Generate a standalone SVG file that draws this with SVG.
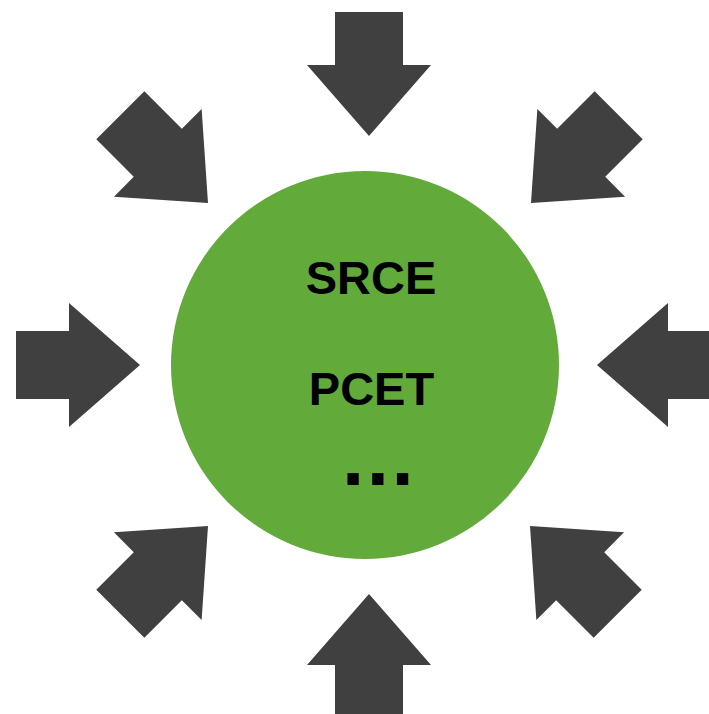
<svg xmlns="http://www.w3.org/2000/svg" width="709" height="714" viewBox="0 0 709 714">
  <style>
    .arrow { fill: #404040; }
    .label { font-family: "Liberation Sans", Arial, sans-serif; font-weight: bold; fill: #000000; }
  </style>
  <defs>
    <!-- block arrow pointing down, tip at the origin -->
    <polygon id="blockArrow" points="-34,-124 34,-124 34,-71 62,-71 0,0 -62,-71 -34,-71"/>
  </defs>
  <rect width="709" height="714" fill="#ffffff"/>

  <g id="connectors">
    <use href="#blockArrow" class="arrow" transform="translate(369,136)"/>
    <use href="#blockArrow" class="arrow" transform="translate(369,594) rotate(180)"/>
    <use href="#blockArrow" class="arrow" transform="translate(140,365) rotate(-90)"/>
    <use href="#blockArrow" class="arrow" transform="translate(597,365) rotate(90)"/>
    <use href="#blockArrow" class="arrow" transform="translate(208,203) rotate(-45)"/>
    <use href="#blockArrow" class="arrow" transform="translate(531,203) rotate(45)"/>
    <use href="#blockArrow" class="arrow" transform="translate(208,526) rotate(-135)"/>
    <use href="#blockArrow" class="arrow" transform="translate(530,526) rotate(135)"/>
  </g>

  <g id="hub">
    <circle cx="365" cy="365" r="194" fill="#62AA3A"/>
    <text class="label" x="371" y="294" font-size="47" text-anchor="middle">SRCE</text>
    <text class="label" x="371.5" y="405" font-size="47" text-anchor="middle">PCET</text>
    <text class="label" x="342" y="485" font-size="80" letter-spacing="2.5">...</text>
  </g>
</svg>
